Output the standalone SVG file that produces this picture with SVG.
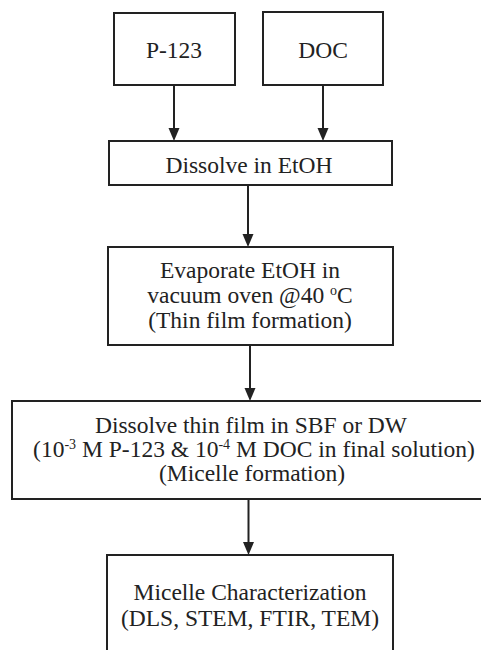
<svg xmlns="http://www.w3.org/2000/svg" width="481" height="650" viewBox="0 0 481 650">
<defs>
<style>
.box{fill:#fff;stroke:#222;stroke-width:2}
.t{font-family:"Liberation Serif","Times New Roman",serif;font-size:23.5px;fill:#222;text-anchor:middle}
.s{font-size:14px}
.c{stroke:#222;stroke-width:2;fill:none}
.h{fill:#222}
</style>
</defs>
<rect width="481" height="650" fill="#fff"/>
<g id="connectors">
<line class="c" x1="174" y1="85" x2="174" y2="130"/>
<path class="h" d="M168.5,128 L179.5,128 L174,141 Z"/>
<line class="c" x1="323" y1="85" x2="323" y2="130"/>
<path class="h" d="M317.5,128 L328.5,128 L323,141 Z"/>
<line class="c" x1="248" y1="185" x2="248" y2="236"/>
<path class="h" d="M242.5,234 L253.5,234 L248,247 Z"/>
<line class="c" x1="250" y1="345" x2="250" y2="390"/>
<path class="h" d="M244.5,388 L255.5,388 L250,401 Z"/>
<line class="c" x1="248.5" y1="499" x2="248.5" y2="544"/>
<path class="h" d="M243,542 L254,542 L248.5,555 Z"/>
</g>
<g id="p123">
<rect class="box" x="114" y="13" width="121" height="72"/>
<text class="t" x="174" y="58">P-123</text>
</g>
<g id="doc">
<rect class="box" x="263" y="12" width="120" height="73"/>
<text class="t" x="323" y="58">DOC</text>
</g>
<g id="dissolve">
<rect class="box" x="109" y="141" width="283" height="44"/>
<text class="t" x="249" y="173">Dissolve in EtOH</text>
</g>
<g id="evaporate">
<rect class="box" x="108" y="247" width="285" height="98"/>
<text class="t" x="250" y="278">Evaporate EtOH in</text>
<text class="t" x="250" y="303">vacuum oven @40 <tspan class="s" dy="-8">o</tspan><tspan dy="8">C</tspan></text>
<text class="t" x="250" y="328">(Thin film formation)</text>
</g>
<g id="dissolve-film">
<rect class="box" x="12" y="401" width="475" height="98"/>
<text class="t" x="251" y="433">Dissolve thin film in SBF or DW</text>
<text class="t" x="254" y="457">(10<tspan class="s" dy="-8">-3</tspan><tspan dy="8"> M P-123 &amp; 10</tspan><tspan class="s" dy="-8">-4</tspan><tspan dy="8"> M DOC in final solution)</tspan></text>
<text class="t" x="252" y="481">(Micelle formation)</text>
</g>
<g id="characterization">
<rect class="box" x="107" y="555" width="286" height="100"/>
<text class="t" x="250" y="600">Micelle Characterization</text>
<text class="t" x="250" y="626">(DLS, STEM, FTIR, TEM)</text>
</g>
</svg>
